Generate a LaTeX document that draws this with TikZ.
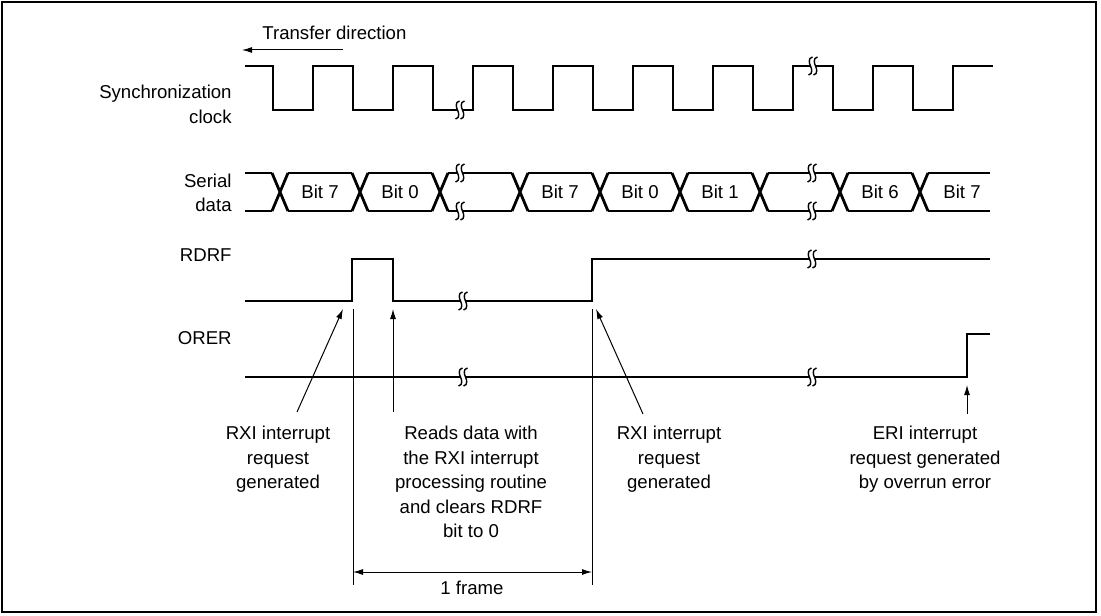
\documentclass[tikz,border=0pt]{standalone}
\usepackage{fontspec}
\setmainfont{Liberation Sans}
\usetikzlibrary{arrows.meta}

\tikzset{
  sig/.style={line width=1.4pt},
  thinline/.style={line width=0.5pt},
  lbl/.style={font=\fontsize{9.3}{12.25}\selectfont, inner sep=0pt},
  >={Latex[length=5pt,width=3pt]}
}

% break mark on a signal line
\newcommand{\brkmark}[2]{%
  \fill[white] (#1-2.5,#2-9) rectangle (#1+2.5,#2+9);
  \foreach \d in {-2.5,2.5}
    \draw[line width=0.7pt] (#1+\d+2,#2-9) .. controls (#1+\d-3,#2-8) and (#1+\d-1,#2-2) .. (#1+\d,#2)
      .. controls (#1+\d+1,#2+2) and (#1+\d+3,#2+8) .. (#1+\d-2,#2+9);
}

\begin{document}
\begin{tikzpicture}[x=0.5pt,y=-0.5pt]
    \useasboundingbox (0,0) rectangle (1101,615);
    \draw[line width=1pt] (2,2) rectangle (1096,612);

    % transfer direction
    \node[lbl,anchor=west] (dir) at (262,33) {Transfer direction};
    \coordinate (dirA) at (343,50);
    \coordinate (dirB) at (242,50);
    \draw[thinline,->] (dirA) -- (dirB);

    % signal names
    \node[lbl,anchor=east,align=right] (clk) at (232,104.5) {Synchronization\\clock};
    \node[lbl,anchor=east,align=right] (ser) at (232,193) {Serial\\data};
    \node[lbl,anchor=east] (rdrf) at (232,255) {RDRF};
    \node[lbl,anchor=east] (orer) at (232,338) {ORER};

    % clock
    \draw[sig] (245,66) -| (273,110) -| (313,66) -| (353,110) -| (393,66) -| (433,110)
      -| (473,66) -| (513,110) -| (553,66) -| (593,110) -| (633,66) -| (673,110)
      -| (713,66) -| (753,110) -| (793,66) -| (833,110) -| (873,66) -| (913,110)
      -| (953,66) -- (993,66);
    \brkmark{460}{110}
    \brkmark{813}{66}

    % serial data
    \foreach \c in {280,360,...,920}
      \draw[sig] (\c-8,173) -- (\c+8,211) (\c-8,211) -- (\c+8,173);
    \foreach \a/\b in {245/272,288/352,368/432,448/512,528/592,608/672,688/752,768/832,848/912,928/990}
      \draw[sig] (\a,173) -- (\b,173) (\a,211) -- (\b,211);
    \foreach \n/\x/\t in {1/320/7,2/400/0,3/560/7,4/640/0,5/720/1,6/880/6,7/962/7}
      \node[lbl] (bit\n) at (\x,192) {Bit \t};
    \brkmark{460}{173}
    \brkmark{460}{211}
    \brkmark{812}{173}
    \brkmark{812}{211}

    % RDRF
    \draw[sig] (245,301) -- (352,301) -- (352,259) -- (393,259) -- (393,301)
      -- (592,301) -- (592,259) -- (990,259);
    \brkmark{463}{301}
    \brkmark{812}{259}

    % ORER
    \draw[sig] (245,377) -- (967,377) -- (967,334) -- (990,334);
    \brkmark{463}{377}
    \brkmark{812}{377}

    % frame markers
    \coordinate (fa) at (353,309);
    \coordinate (fb) at (592,309);
    \coordinate (fa2) at (353,585);
    \coordinate (fb2) at (592,585);
    \draw[thinline] (fa) -- (fa2);
    \draw[thinline] (fb) -- (fb2);
    \coordinate (fra) at (353,572);
    \coordinate (frb) at (592,572);
    \draw[thinline,<->] (fra) -- (frb);
    \node[lbl] (frame) at (472,588) {1 frame};

    % notes
    \node[lbl,anchor=north,align=center] (rxia) at (278,426) {RXI interrupt\\request\\generated};
    \node[lbl,anchor=north,align=center] (reads) at (471,426) {Reads data with\\the RXI interrupt\\processing routine\\and clears RDRF\\bit to 0};
    \node[lbl,anchor=north,align=center] (rxib) at (669,426) {RXI interrupt\\request\\generated};
    \node[lbl,anchor=north,align=center] (eri) at (925,426) {ERI interrupt\\request generated\\by overrun error};

    \coordinate (rxiaT) at (297,412);
    \coordinate (rxiaH) at (343,309);
    \coordinate (readsT) at (393,412);
    \coordinate (readsH) at (393,309);
    \coordinate (rxibT) at (643,414);
    \coordinate (rxibH) at (596,309);
    \coordinate (eriT) at (967,414);
    \coordinate (eriH) at (967,385);
    \draw[thinline,->] (rxiaT) -- (rxiaH);
    \draw[thinline,->] (readsT) -- (readsH);
    \draw[thinline,->] (rxibT) -- (rxibH);
    \draw[thinline,->] (eriT) -- (eriH);
\end{tikzpicture}
\end{document}
